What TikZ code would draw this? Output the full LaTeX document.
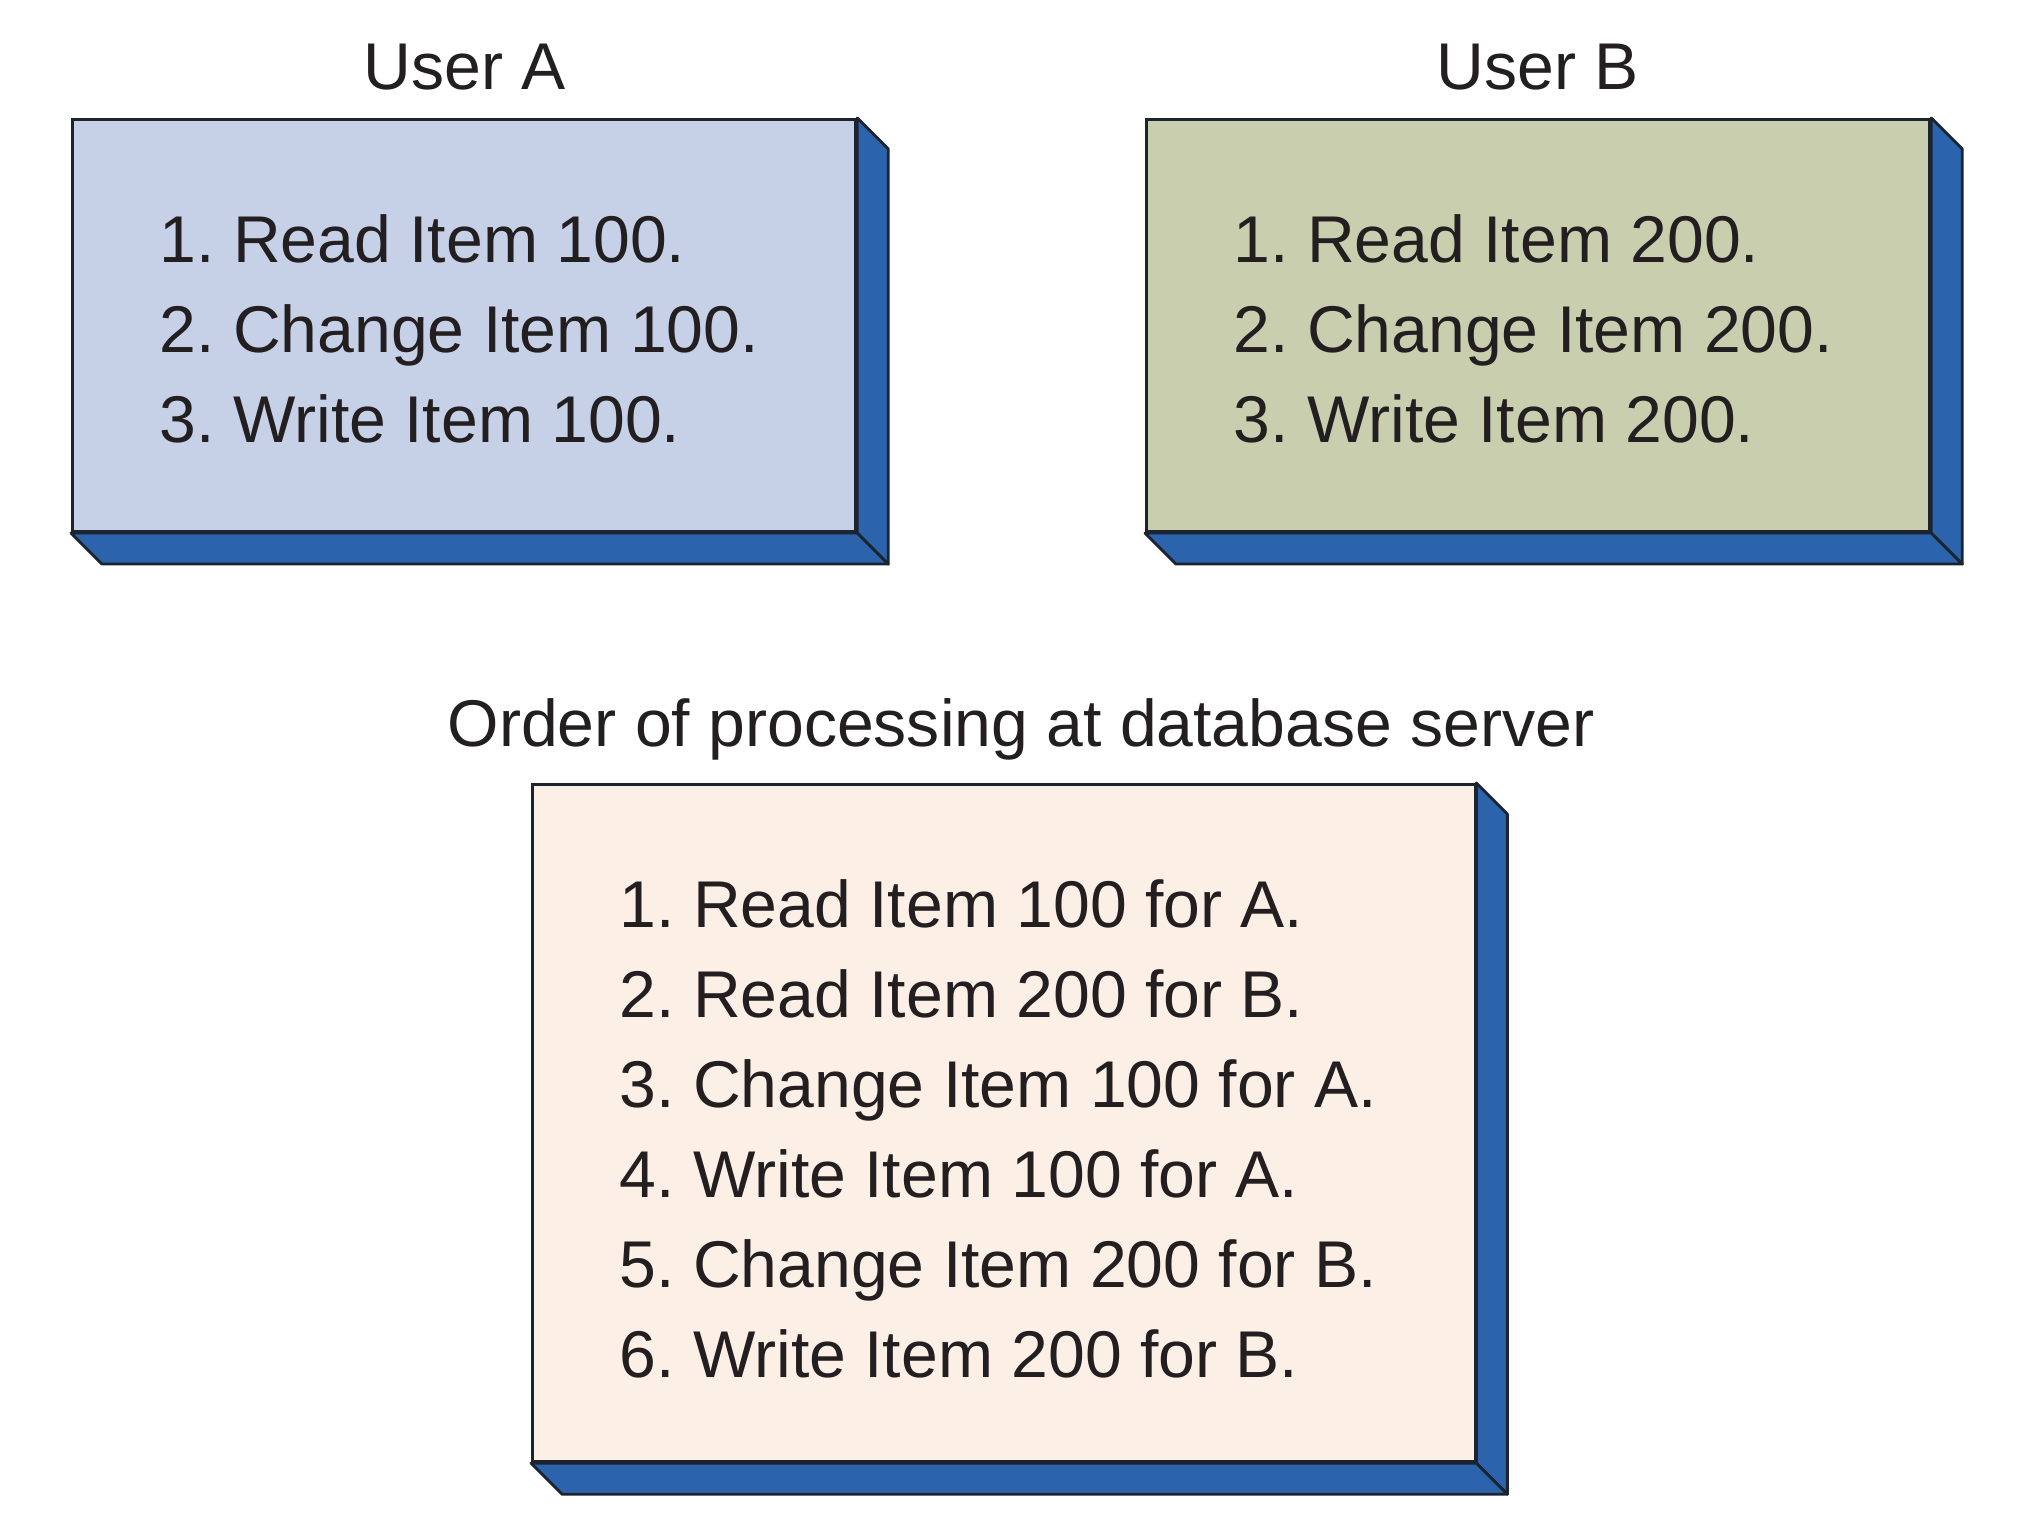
\documentclass[tikz,border=0pt]{standalone}
\usepackage{fontspec}
\setmainfont{Liberation Sans}
\usetikzlibrary{positioning, calc}
\frenchspacing
\definecolor{dbInk}{HTML}{231F20}
\definecolor{dbEdge}{HTML}{1C2430}
\definecolor{dbSide}{HTML}{2B63AD}
\definecolor{dbBlueT}{HTML}{C6D0E7}
\definecolor{dbOliveT}{HTML}{C9CEAE}
\definecolor{dbPeachT}{HTML}{FCEFE6}
\tikzset{
  front/.style ={draw=dbEdge, line width=0.8pt, anchor=north west, inner sep=0pt},
  side/.style  ={fill=dbSide, draw=dbEdge, line width=0.8pt, line join=round},
  title/.style ={anchor=base, inner sep=0pt, font=\fontsize{18.8}{22}\selectfont, text=dbInk},
  steps/.style ={align=left, anchor=west, inner sep=0pt, font=\fontsize{18.8}{25.6}\selectfont, text=dbInk},
}
% blue depth faces right of and under a front node
\newcommand{\slab}[1]{%
  \draw[side] (#1.north east) -- ++(31,31) -- ($(#1.south east)+(31,31)$) -- (#1.south east) -- cycle;
  \draw[side] (#1.south west) -- ++(31,31) -- ($(#1.south east)+(31,31)$) -- (#1.south east) -- cycle;
}

\begin{document}
\begin{tikzpicture}[x=0.01cm, y=-0.01cm]
\useasboundingbox (0,0) rectangle (2044,1536);

% ---- user A ----
\node[front, fill=dbBlueT, minimum width=7.83cm, minimum height=4.12cm] (a) at (71,118) {};
\slab{a}
\node[title] (ta) at (465,89) {User A};
\node[steps] (la) at ($(a.west)+(88,3)$) {1. Read Item 100.\\2. Change Item 100.\\3. Write Item 100.};

% ---- user B ----
\node[front, fill=dbOliveT, minimum width=7.83cm, minimum height=4.12cm] (b) at (1145,118) {};
\slab{b}
\node[title] (tb) at (1538,89) {User B};
\node[steps] (lb) at ($(b.west)+(88,3)$) {1. Read Item 200.\\2. Change Item 200.\\3. Write Item 200.};

% ---- database server ----
\node[front, fill=dbPeachT, minimum width=9.42cm, minimum height=6.77cm] (c) at (531,783) {};
\slab{c}
\node[title] (tc) at (1021,746) {Order of processing at database server};
\node[steps] (lc) at ($(c.west)+(88,6)$) {1. Read Item 100 for A.\\2. Read Item 200 for B.\\3. Change Item 100 for A.\\4. Write Item 100 for A.\\5. Change Item 200 for B.\\6. Write Item 200 for B.};
\end{tikzpicture}
\end{document}
